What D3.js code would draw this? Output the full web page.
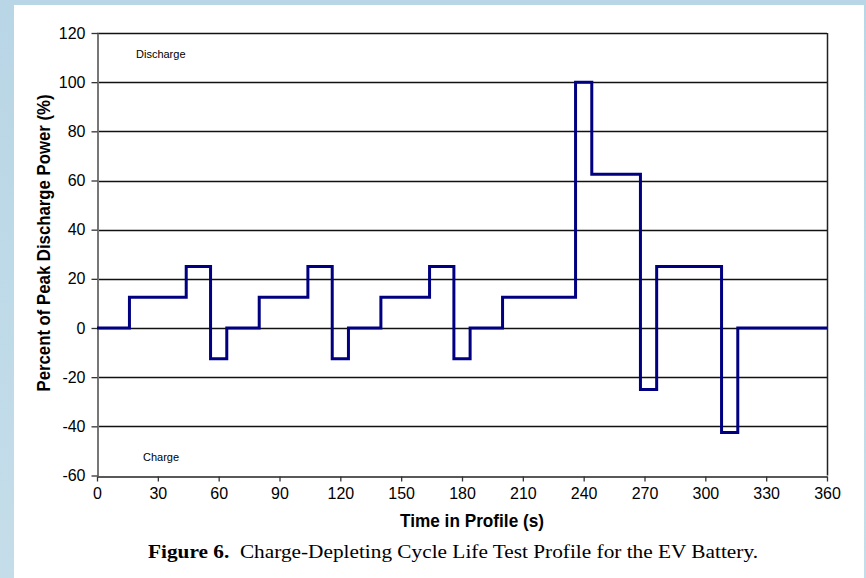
<!DOCTYPE html>
<html>
<head>
<meta charset="utf-8">
<script src="https://cdn.jsdelivr.net/npm/d3@7"></script>
<style>
    html, body { margin: 0; padding: 0; }
    body { width: 866px; height: 578px; overflow: hidden; }
    .tick-label { font-family: "Liberation Sans Narrow", "Liberation Sans", Arial, sans-serif; font-size: 16px; fill: #000; }
    .axis-title { font-family: "Liberation Sans Narrow", "Liberation Sans", Arial, sans-serif; font-size: 19px; font-weight: bold; fill: #000; }
    .note { font-family: "Liberation Sans", Arial, sans-serif; font-size: 11px; fill: #000; }
    .caption { font-family: "Liberation Serif", "Times New Roman", serif; font-size: 18px; fill: #000; }
</style>
</head>
<body>
<svg id="chart" width="866" height="578"></svg>
<script>
// Profile step starts (s) and power level (%) held until the next step
const STEP_TIMES = [0, 16, 44, 56, 64, 80, 104, 116, 124, 140, 164, 176, 184, 200, 236, 244, 268, 276, 308, 316];
const STEP_LEVELS = [0, 12.5, 25, -12.5, 0, 12.5, 25, -12.5, 0, 12.5, 25, -12.5, 0, 12.5, 100, 62.5, -25, 25, -42.5, 0];
const END_TIME = 360;

const X_TICKS = [0, 30, 60, 90, 120, 150, 180, 210, 240, 270, 300, 330, 360];
const Y_TICKS = [-60, -40, -20, 0, 20, 40, 60, 80, 100, 120];

const svg = d3.select("#chart");

// Background with light blue frame
const defs = svg.append("defs");
const grad = defs.append("linearGradient")
    .attr("id", "bg")
    .attr("x1", "0").attr("y1", "0").attr("x2", "0").attr("y2", "1");
grad.append("stop").attr("offset", "0").attr("stop-color", "#b9d6e6");
grad.append("stop").attr("offset", "1").attr("stop-color", "#c4dde9");

svg.append("rect")
    .attr("width", 866).attr("height", 578)
    .attr("fill", "url(#bg)");

svg.append("rect")
    .attr("x", 14).attr("y", 5)
    .attr("width", 850).attr("height", 573)
    .attr("fill", "#ffffff");

const plot = { left: 97, right: 827, top: 33, bottom: 475.5 };

const x = d3.scaleLinear()
    .domain([0, 360])
    .range([plot.left, plot.right]);

const y = d3.scaleLinear()
    .domain([-60, 120])
    .range([plot.bottom, plot.top]);

// Gridlines
svg.append("g")
    .selectAll("line")
    .data(Y_TICKS.filter((v) => v > -60))
    .join("line")
    .attr("x1", plot.left)
    .attr("x2", plot.right)
    .attr("y1", (d) => Math.round(y(d)) + 0.5)
    .attr("y2", (d) => Math.round(y(d)) + 0.5)
    .attr("stroke", "#111")
    .attr("stroke-width", 1.3);

// Right border
svg.append("line")
    .attr("x1", plot.right + 0.5).attr("x2", plot.right + 0.5)
    .attr("y1", plot.top).attr("y2", plot.bottom)
    .attr("stroke", "#222")
    .attr("stroke-width", 1.5);

const plainFormat = (d) => String(d);

// X axis
const xAxis = svg.append("g")
    .attr("transform", "translate(0," + (Math.round(plot.bottom) + 0.5) + ")")
    .call(d3.axisBottom(x).tickValues(X_TICKS).tickFormat(plainFormat)
        .tickSize(5).tickSizeOuter(0).tickPadding(6));
xAxis.attr("font-size", null).attr("font-family", null);
xAxis.select(".domain").attr("stroke", "#222").attr("stroke-width", 1.5);
xAxis.selectAll(".tick line").attr("stroke", "#333").attr("stroke-width", 1.3);
xAxis.selectAll(".tick text").attr("class", "tick-label");

// Y axis
const yAxis = svg.append("g")
    .attr("transform", "translate(" + (plot.left + 0.5) + ",0)")
    .call(d3.axisLeft(y).tickValues(Y_TICKS).tickFormat(plainFormat)
        .tickSize(6).tickSizeOuter(0).tickPadding(6));
yAxis.attr("font-size", null).attr("font-family", null);
yAxis.select(".domain").attr("stroke", "#777").attr("stroke-width", 2);
yAxis.selectAll(".tick line").attr("stroke", "#333").attr("stroke-width", 1.3);
yAxis.selectAll(".tick text").attr("class", "tick-label");

// Step profile
const points = STEP_TIMES.map((t, i) => ({ t: t, v: STEP_LEVELS[i] }));
points.push({ t: END_TIME, v: STEP_LEVELS[STEP_LEVELS.length - 1] });

const lineGenerator = d3.line()
    .x((p) => x(p.t))
    .y((p) => y(p.v))
    .curve(d3.curveStepAfter);

svg.append("path")
    .datum(points)
    .attr("d", lineGenerator)
    .attr("fill", "none")
    .attr("stroke", "#000080")
    .attr("stroke-width", 3)
    .attr("stroke-linejoin", "miter");

// Region notes
svg.append("text")
    .attr("class", "note")
    .attr("x", 136)
    .attr("y", 58)
    .text("Discharge");

svg.append("text")
    .attr("class", "note")
    .attr("x", 143)
    .attr("y", 461)
    .text("Charge");

// Axis titles
svg.append("text")
    .attr("class", "axis-title")
    .attr("text-anchor", "middle")
    .attr("transform", "translate(50,243) rotate(-90)")
    .attr("textLength", 297)
    .attr("lengthAdjust", "spacingAndGlyphs")
    .text("Percent of Peak Discharge Power (%)");

svg.append("text")
    .attr("class", "axis-title")
    .attr("text-anchor", "middle")
    .attr("x", 472)
    .attr("y", 527)
    .attr("textLength", 144)
    .attr("lengthAdjust", "spacingAndGlyphs")
    .text("Time in Profile (s)");

// Caption
const caption = svg.append("text")
    .attr("class", "caption")
    .attr("text-anchor", "middle")
    .attr("x", 453)
    .attr("y", 558)
    .attr("textLength", 610)
    .attr("lengthAdjust", "spacingAndGlyphs");
caption.append("tspan").attr("font-weight", "bold").text("Figure 6.");
caption.append("tspan").text("\u00a0 Charge-Depleting Cycle Life Test Profile for the EV Battery.");
</script>
</body>
</html>
